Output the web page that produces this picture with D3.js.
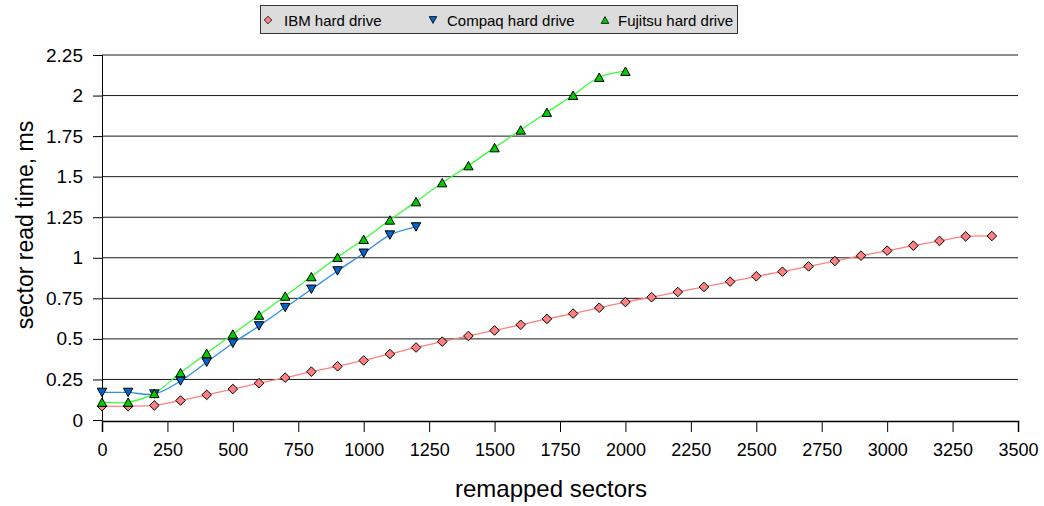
<!DOCTYPE html>
<html><head><meta charset="utf-8">
<script src="https://cdn.jsdelivr.net/npm/d3@7"></script>
<style>
html,body{margin:0;padding:0;background:#fff;}
svg{display:block;font-family:"Liberation Sans",Arial,sans-serif;}
</style></head>
<body><svg id="c" width="1044" height="506"></svg>
<script>
const ibmX = [0,100,200,300,400,500,600,700,800,900,1000,1100,1200,1300,1400,1500,1600,1700,1800,1900,2000,2100,2200,2300,2400,2500,2600,2700,2800,2900,3000,3100,3200,3300,3400];
const ibmY = [0.085,0.085,0.09,0.12,0.155,0.191,0.227,0.261,0.298,0.331,0.367,0.407,0.447,0.483,0.518,0.552,0.587,0.623,0.656,0.692,0.727,0.757,0.789,0.82,0.853,0.886,0.914,0.947,0.98,1.013,1.044,1.075,1.104,1.132,1.134];
const compaqX = [0,100,200,300,400,500,600,700,800,900,1000,1100,1200];
const compaqY = [0.17,0.17,0.16,0.24,0.356,0.473,0.58,0.693,0.806,0.919,1.028,1.14,1.19];
const fujitsuX = [0,100,200,300,400,500,600,700,800,900,1000,1100,1200,1300,1400,1500,1600,1700,1800,1900,2000];
const fujitsuY = [0.11,0.11,0.164,0.292,0.411,0.53,0.647,0.764,0.884,1.003,1.114,1.233,1.346,1.463,1.568,1.679,1.788,1.897,2.002,2.113,2.15];
const seriesNames = ["IBM hard drive","Compaq hard drive","Fujitsu hard drive"];
const xTicks = [0,250,500,750,1000,1250,1500,1750,2000,2250,2500,2750,3000,3250,3500];
const yTicks = [0,0.25,0.5,0.75,1,1.25,1.5,1.75,2,2.25];
const xTitle = "remapped sectors";
const yTitle = "sector read time, ms";

const svg = d3.select("#c");
const L = 102, R = 1018, T = 55, B = 420;
const x = d3.scaleLinear().domain([0,3500]).range([L,R]);
const y = d3.scaleLinear().domain([0,2.25]).range([B,T]);

// gridlines
svg.append("g").selectAll("line").data(yTicks.filter(v=>v>0)).join("line")
  .attr("x1",L).attr("x2",R).attr("y1",d=>y(d)).attr("y2",d=>y(d))
  .attr("stroke","#1a1a1a").attr("stroke-width",1);

// axes
const yAxis = d3.axisLeft(y).tickValues(yTicks).tickSize(9).tickPadding(10).tickFormat(d=>String(d));
const gy = svg.append("g").attr("transform",`translate(${L},0)`).call(yAxis);
gy.select(".domain").attr("stroke","#000");
gy.selectAll(".tick line").attr("stroke","#000");
gy.selectAll("text").attr("font-size",19).attr("fill","#000").attr("font-family","Liberation Sans, Arial, sans-serif");

const xAxis = d3.axisBottom(x).tickValues(xTicks).tickSize(11).tickPadding(11).tickFormat(d=>String(d));
const gx = svg.append("g").attr("transform",`translate(0,${B+1})`).call(xAxis);
gx.select(".domain").attr("stroke","#000").attr("stroke-width",1.5);
gx.selectAll(".tick line").attr("stroke","#000");
gx.selectAll("text").attr("font-size",18).attr("fill","#000").attr("font-family","Liberation Sans, Arial, sans-serif");

// titles
svg.append("text").attr("x",551).attr("y",497).attr("text-anchor","middle")
  .attr("font-size",24).attr("fill","#000").text(xTitle);
svg.append("text").attr("transform",`translate(33,225) rotate(-90)`).attr("text-anchor","middle")
  .attr("font-size",23).attr("fill","#000").text(yTitle);

const diamond = r => `M0,${-r}L${r},0L0,${r}L${-r},0Z`;
const triDown = (w,h) => `M${-w},${-h}L${w},${-h}L0,${h}Z`;
const triUp = (w,h) => `M0,${-h}L${w},${h}L${-w},${h}Z`;

const series = [
  {name:seriesNames[0], xs:ibmX, ys:ibmY, line:"#ff8080", fill:"#ff8080", shape:diamond(4.8), lshape:diamond(3.8)},
  {name:seriesNames[1], xs:compaqX, ys:compaqY, line:"#2f8fe8", fill:"#0066cc", shape:triDown(4.7,4.2), lshape:triDown(3.8,3.4)},
  {name:seriesNames[2], xs:fujitsuX, ys:fujitsuY, line:"#33ff33", fill:"#00cc00", shape:triUp(4.7,4.2), lshape:triUp(3.8,3.4)}
];

const line = d3.line().x(d=>x(d[0])).y(d=>y(d[1])).curve(d3.curveCatmullRom.alpha(0.5));
series.forEach(s=>{
  const pts = s.xs.map((v,i)=>[v,s.ys[i]]);
  svg.append("path").datum(pts).attr("d",line).attr("fill","none")
    .attr("stroke",s.line).attr("stroke-width",1.3);
});
series.forEach(s=>{
  const pts = s.xs.map((v,i)=>[v,s.ys[i]]);
  svg.append("g").selectAll("path").data(pts).join("path")
    .attr("transform",d=>`translate(${x(d[0])},${y(d[1])})`)
    .attr("d",s.shape).attr("fill",s.fill).attr("stroke","#000").attr("stroke-width",1);
});

// legend
const lg = svg.append("g");
lg.append("rect").attr("x",260.5).attr("y",5.5).attr("width",477).attr("height",28)
  .attr("fill","#dcdcdc").attr("stroke","#333").attr("stroke-width",1);
const legX = [268, 433, 605];
const legGap = [16, 14, 13];
series.forEach((s,i)=>{
  lg.append("path").attr("transform",`translate(${legX[i]},20)`).attr("d",s.lshape)
    .attr("fill",s.fill).attr("stroke","#000").attr("stroke-width",0.8);
  lg.append("text").attr("x",legX[i]+legGap[i]).attr("y",26).attr("font-size",15).attr("fill","#000").text(s.name);
});
</script></body></html>
